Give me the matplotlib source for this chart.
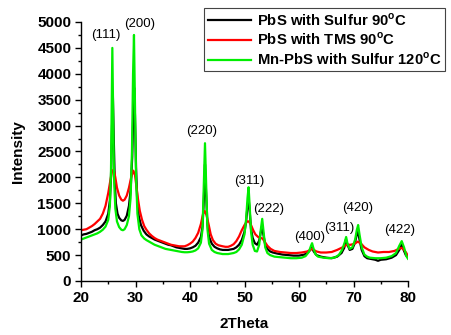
import matplotlib
matplotlib.use("Agg")
import matplotlib.pyplot as plt
from matplotlib.ticker import MultipleLocator

plt.rcParams['font.family'] = ['Liberation Sans', 'DejaVu Sans']
plt.rcParams['mathtext.fontset'] = 'custom'
plt.rcParams['mathtext.rm'] = 'Liberation Sans'
plt.rcParams['mathtext.bf'] = 'Liberation Sans:bold'

# ---- data ----
x_black = [20, 20.5, 21, 21.5, 22, 22.5, 23, 23.5, 24, 24.5, 25, 25.3, 25.5, 25.7, 25.85, 26.0, 26.2, 26.4, 26.7, 27,
           27.4, 27.7, 28, 28.4, 28.8, 29.1, 29.4, 29.6, 29.75, 29.9, 30.1, 30.3, 30.6, 31, 31.5, 32, 32.5, 33, 33.5, 34,
           34.5, 35, 35.5, 36, 36.5, 37, 37.5, 38, 38.5, 39, 39.5, 40, 40.5, 41, 41.5, 42, 42.3, 42.55, 42.75, 42.95,
           43.2, 43.5, 44, 44.5, 45, 45.5, 46, 46.5, 47, 47.5, 48, 48.5, 49, 49.5, 50, 50.3, 50.55, 50.75, 50.95, 51.2,
           51.5, 51.9, 52.3, 52.7, 53.0, 53.2, 53.45, 53.8, 54.2, 54.7, 55.2, 56, 57, 58, 59, 60, 60.5, 61, 61.5, 62,
           62.35, 62.7, 63.2, 64, 65, 66, 67, 67.8, 68.3, 68.6, 68.9, 69.3, 69.8, 70.3, 70.6, 70.85, 71.1, 71.5, 72, 72.5,
           73, 74, 74.5, 75, 76, 77, 77.8, 78.4, 78.8, 79.2, 79.6, 80]
y_black = [880, 900, 910, 930, 950, 980, 1000, 1030, 1080, 1150, 1300, 1550, 2000, 3000, 3570, 2800, 1900, 1500, 1300, 1220,
           1170, 1160, 1180, 1260, 1450, 1750, 2400, 3300, 3730, 3200, 2200, 1600, 1250, 1080, 970, 900, 860, 830, 800, 780,
           760, 740, 720, 700, 690, 670, 650, 640, 630, 620, 620, 630, 650, 680, 740, 850, 1050, 1600, 2250, 1700,
           1100, 850, 720, 660, 630, 610, 600, 600, 600, 610, 620, 650, 700, 790, 950, 1150, 1450, 1600, 1350, 1000,
           830, 730, 700, 780, 950, 1050, 900, 700, 620, 570, 550, 530, 510, 500, 490, 490, 500, 510, 540, 590,
           650, 570, 500, 470, 450, 440, 470, 540, 640, 800, 700, 600, 620, 750, 900, 950, 800, 600, 480, 440,
           430, 410, 390, 410, 420, 450, 500, 600, 700, 600, 500, 450]

x_red = [20, 20.5, 21, 21.5, 22, 22.5, 23, 23.5, 24, 24.5, 25, 25.4, 25.7, 26, 26.3, 26.6, 27, 27.4, 27.7, 28, 28.4,
         28.8, 29.2, 29.6, 29.9, 30.2, 30.5, 30.8, 31.2, 31.6, 32, 32.5, 33, 33.5, 34, 34.5, 35, 35.5, 36, 36.5, 37,
         37.5, 38, 38.5, 39, 39.5, 40, 40.5, 41, 41.5, 42, 42.4, 42.7, 43, 43.4, 43.8, 44.2, 44.7, 45.2, 46, 46.5, 47,
         47.5, 48, 48.5, 49, 49.5, 50, 50.5, 50.8, 51.2, 51.6, 52, 52.5, 53, 53.3, 53.7, 54.2, 54.8, 55.5, 56.5, 57.5,
         58.5, 59.5, 60.5, 61.5, 62.4, 63.2, 64, 65, 66, 67, 68, 68.8, 69.5, 70.2, 70.8, 71.4, 72, 72.8, 73.5, 74.5,
         75.5, 76.5, 77.5, 78.3, 78.8, 79.3, 79.7, 80]
y_red = [980, 990, 1000, 1030, 1060, 1100, 1150, 1200, 1300, 1450, 1700, 1950, 2120, 2150, 2000, 1800, 1650, 1570, 1550, 1570, 1650,
         1800, 2000, 2130, 2050, 1800, 1550, 1350, 1180, 1060, 990, 920, 870, 830, 800, 780, 760, 740, 720, 700, 690,
         680, 670, 670, 670, 690, 720, 760, 830, 930, 1100, 1300, 1350, 1280, 1100, 900, 790, 720, 690, 670, 660, 660,
         680, 710, 770, 860, 980, 1080, 1150, 1150, 1080, 980, 900, 850, 830, 820, 760, 680, 620, 580, 560, 550,
         540, 540, 550, 570, 620, 570, 550, 550, 560, 600, 650, 700, 700, 720, 760, 720, 650, 600, 570, 550,
         560, 560, 580, 620, 640, 600, 540, 480]

x_green = [20, 20.5, 21, 21.5, 22, 22.5, 23, 23.5, 24, 24.5, 25, 25.3, 25.5, 25.6, 25.75, 25.9, 26.05, 26.3, 26.6, 27,
           27.4, 27.7, 28, 28.4, 28.8, 29.1, 29.35, 29.55, 29.72, 29.9, 30.1, 30.35, 30.7, 31.1, 31.6, 32, 32.5, 33, 33.5,
           34, 34.5, 35, 35.5, 36, 36.5, 37, 37.5, 38, 38.5, 39, 39.5, 40, 40.5, 41, 41.5, 42, 42.3, 42.55, 42.75, 42.95,
           43.2, 43.5, 44, 44.5, 45, 45.5, 46, 46.5, 47, 47.5, 48, 48.5, 49, 49.5, 50, 50.3, 50.55, 50.75, 50.95, 51.2,
           51.5, 51.9, 52.3, 52.7, 53.0, 53.25, 53.5, 53.8, 54.2, 54.7, 55.5, 56.5, 57.5, 58.5, 59.5, 60.5, 61.2, 61.8,
           62.2, 62.4, 62.6, 63, 63.5, 64.5, 65.5, 66.5, 67.3, 67.9, 68.4, 68.65, 68.9, 69.3, 69.8, 70.3, 70.6, 70.85,
           71.1, 71.5, 72, 72.5, 73, 74, 75, 76, 77, 77.8, 78.4, 78.85, 79.3, 79.7, 80]
y_green = [800, 820, 840, 860, 880, 900, 920, 950, 990, 1050, 1180, 1450, 2100, 3000, 4500, 3200, 2000, 1400, 1150, 1040,
           990, 980, 1000, 1080, 1250, 1600, 2500, 4000, 4750, 3400, 2000, 1300, 1000, 880, 820, 790, 760, 730, 700,
           680, 660, 640, 620, 610, 600, 590, 580, 570, 560, 555, 555, 560, 570, 590, 630, 740, 1000, 1900, 2660, 1900,
           1000, 720, 600, 560, 540, 530, 520, 520, 520, 530, 540, 560, 610, 700, 900, 1200, 1600, 1810, 1450, 950,
           700, 580, 570, 700, 1000, 1200, 950, 650, 540, 500, 470, 460, 450, 440, 440, 450, 480, 560,
           680, 730, 650, 520, 470, 450, 440, 450, 500, 600, 750, 850, 720, 620, 650, 800, 980, 1080,
           900, 650, 510, 470, 450, 440, 440, 450, 480, 540, 680, 770, 640, 480, 430]

series_labels = [r'PbS with Sulfur 90$^{\mathbf{o}}$C',
                 r'PbS with TMS 90$^{\mathbf{o}}$C',
                 r'Mn-PbS with Sulfur 120$^{\mathbf{o}}$C']

peak_labels = ['(111)', '(200)', '(220)', '(311)', '(222)', '(400)', '(311)', '(420)', '(422)']
peak_x = [24.6, 30.7, 42.15, 50.9, 54.4, 61.9, 67.35, 70.7, 78.4]
peak_y = [4740, 4970, 2890, 1934, 1392, 857, 1019, 1406, 986]

# ---- figure ----
fig = plt.figure(figsize=(4.51, 3.35), dpi=100)
ax = fig.add_axes([81/451, 54/335, (408-81)/451, (281-22)/335])

l1, = ax.plot(x_black, y_black, color='black', lw=1.6, label=series_labels[0])
l2, = ax.plot(x_red, y_red, color='#ff0000', lw=1.6, label=series_labels[1])
l3, = ax.plot(x_green, y_green, color='#00ee00', lw=1.6, label=series_labels[2])

for t, px, py in zip(peak_labels, peak_x, peak_y):
    ax.text(px, py, t, ha='center', va='center', fontsize=9.5)

ax.set_xlim(20, 80)
ax.set_ylim(0, 5000)
for s in ['top', 'right']:
    ax.spines[s].set_visible(False)
for s in ['left', 'bottom']:
    ax.spines[s].set_linewidth(1.0)

ax.xaxis.set_major_locator(MultipleLocator(10))
ax.xaxis.set_minor_locator(MultipleLocator(5))
ax.yaxis.set_major_locator(MultipleLocator(500))
ax.yaxis.set_minor_locator(MultipleLocator(250))
ax.tick_params(which='major', direction='out', length=4, width=1, labelsize=11, pad=3)
ax.tick_params(which='minor', direction='out', length=2, width=1)
for lab in ax.get_xticklabels() + ax.get_yticklabels():
    lab.set_fontweight('bold')

ax.set_xlabel('2Theta', fontsize=11, fontweight='bold', labelpad=9)
ax.set_ylabel('Intensity', fontsize=11, fontweight='bold', labelpad=9)

leg = fig.legend(handles=[l1, l2, l3], loc='upper right',
                 bbox_to_anchor=(445/451, 1 - 8/335), bbox_transform=fig.transFigure,
                 borderaxespad=0, fancybox=False, framealpha=1, edgecolor='#444444',
                 prop={'weight': 'bold', 'size': 10.7}, handlelength=2.9, labelspacing=0.2,
                 borderpad=0.25, handletextpad=0.4)
leg.get_frame().set_linewidth(0.8)

fig.savefig('out.png', dpi=100)
